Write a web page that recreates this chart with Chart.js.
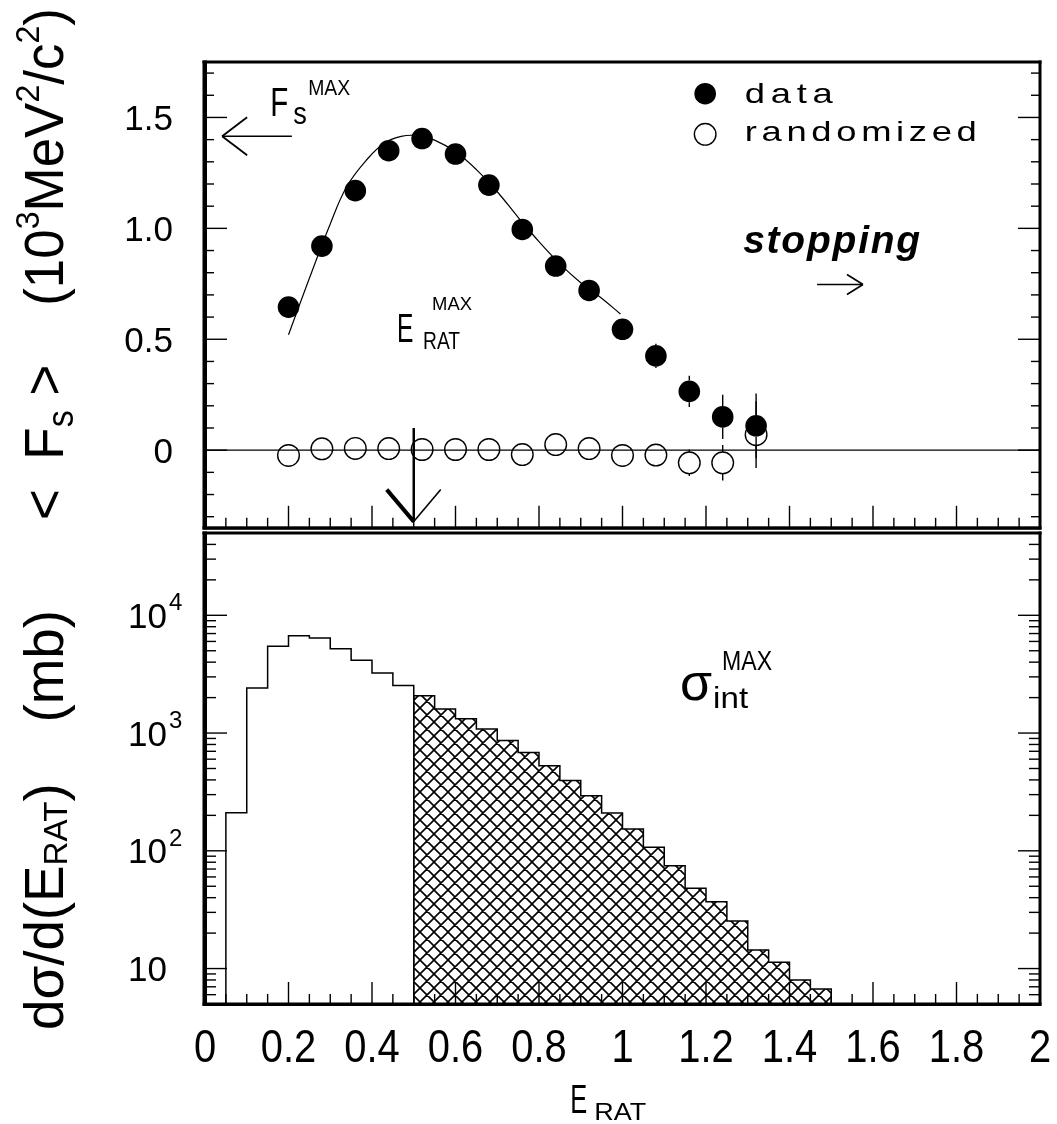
<!DOCTYPE html>
<html>
<head>
<meta charset="utf-8">
<script src="https://cdn.jsdelivr.net/npm/chart.js@4.4.1/dist/chart.umd.min.js"></script>
<style>
  html, body { margin: 0; padding: 0; background: #fff; }
  #wrap { position: relative; width: 1057px; height: 1124px; overflow: hidden; }
  #wrap canvas { position: absolute; left: 0; }
  #topChart { top: 0; }
  #botChart { top: 526px; }
</style>
</head>
<body>
<div id="wrap">
  <canvas id="topChart" width="1057" height="540"></canvas>
  <canvas id="botChart" width="1057" height="598"></canvas>
</div>
<script>
// upper panel: <F_s> per E_RAT bin
const pointX = [0.20, 0.28, 0.36, 0.44, 0.52, 0.60, 0.68, 0.76, 0.84, 0.92, 1.00, 1.08, 1.16, 1.24, 1.32];
const dataFs = [0.645, 0.92, 1.17, 1.35, 1.405, 1.335, 1.195, 0.995, 0.83, 0.72, 0.545, 0.425, 0.265, 0.15, 0.11];
const dataErr = [0.02, 0.02, 0.02, 0.02, 0.02, 0.02, 0.02, 0.02, 0.02, 0.03, 0.03, 0.055, 0.07, 0.10, 0.145];
const randFs = [-0.024, 0.006, 0.008, 0.007, 0.003, 0.003, 0.003, -0.02, 0.025, 0.007, -0.024, -0.022, -0.057, -0.057, 0.07];
const randErr = [0.02, 0.02, 0.02, 0.02, 0.02, 0.02, 0.02, 0.02, 0.02, 0.02, 0.03, 0.03, 0.06, 0.08, 0.15];

// smooth curve drawn through the data
const fitX = [0.20, 0.25, 0.30, 0.34, 0.39, 0.43, 0.47, 0.51, 0.55, 0.60, 0.65, 0.70, 0.75, 0.80, 0.85, 0.90, 0.95, 0.995];
const fitY = [0.52, 0.775, 1.02, 1.19, 1.315, 1.385, 1.415, 1.418, 1.398, 1.345, 1.265, 1.165, 1.05, 0.94, 0.84, 0.755, 0.685, 0.614];

// lower panel: dsigma/dE_RAT histogram (mb), bins of 0.05
const binEdges = [0.05, 0.10, 0.15, 0.20, 0.25, 0.30, 0.35, 0.40, 0.45, 0.50, 0.55, 0.60, 0.65, 0.70, 0.75,
                  0.80, 0.85, 0.90, 0.95, 1.00, 1.05, 1.10, 1.15, 1.20, 1.25, 1.30, 1.35, 1.40, 1.45, 1.50];
const binCounts = [210, 2415, 5455, 6710, 6420, 5210, 4145, 3235, 2540, 2075, 1600, 1323, 1082, 865, 684,
                   527, 395, 294, 209, 153, 107, 74.5, 48, 37, 25.4, 14.4, 11.3, 8.0, 6.7];
const hatchFrom = 0.5;   // E_RAT^MAX cut

// tick labels
const xTickValues = [0, 0.2, 0.4, 0.6, 0.8, 1, 1.2, 1.4, 1.6, 1.8, 2];
const xTickLabels = ['0', '0.2', '0.4', '0.6', '0.8', '1', '1.2', '1.4', '1.6', '1.8', '2'];
const topTickValues = [0, 0.5, 1.0, 1.5];
const topTickLabels = ['0', '0.5', '1.0', '1.5'];
const botTickValues = [10, 100, 1000, 10000];
const botTickExps = ['', '2', '3', '4'];

const FONT = "'Liberation Sans', Arial, sans-serif";
const LOG_MIN = 5, LOG_MAX = 50000;
const MARK_R = 10.8;

// text helpers ---------------------------------------------------------
function drawRuns(ctx, runs, x, y, o) {
  o = o || {};
  const style = o.style || '';
  ctx.save();
  ctx.translate(x, y);
  if (o.rot) ctx.rotate(o.rot);
  let nat = 0;
  for (const r of runs) { ctx.font = style + ' ' + r[1] + 'px ' + FONT; nat += ctx.measureText(r[0]).width; }
  const sx = o.w ? o.w / nat : (o.sx || 1);
  let cx = 0;
  if (o.align === 'right') cx = -nat;
  if (o.align === 'center') cx = -nat / 2;
  ctx.scale(sx, 1);
  for (const r of runs) {
    ctx.font = style + ' ' + r[1] + 'px ' + FONT;
    ctx.fillText(r[0], cx, r[2] || 0);
    cx += ctx.measureText(r[0]).width;
  }
  ctx.restore();
}

// letters stretched by sx, then spread to fill width w
function spaced(ctx, text, x, y, size, w, style, sx) {
  sx = sx || 1;
  ctx.font = (style || '') + ' ' + size + 'px ' + FONT;
  const chars = [...text];
  const ws = chars.map(c => ctx.measureText(c).width * sx);
  const nat = ws.reduce((s, v) => s + v, 0);
  const gap = (w - nat) / (chars.length - 1);
  let cx = x;
  chars.forEach((c, i) => {
    ctx.save();
    ctx.translate(cx, y);
    ctx.scale(sx, 1);
    ctx.fillText(c, 0, 0);
    ctx.restore();
    cx += ws[i] + gap;
  });
}

function seg(ctx, x0, y0, x1, y1, lw) {
  ctx.lineWidth = lw;
  ctx.beginPath();
  ctx.moveTo(x0, y0);
  ctx.lineTo(x1, y1);
  ctx.stroke();
}

function frame(ctx, a) {
  ctx.fillStyle = '#000';
  ctx.fillRect(a.left - 2.5, a.top - 1.5, 4.5, a.bottom - a.top + 3);
  ctx.fillRect(a.right - 1.5, a.top - 1.5, 3, a.bottom - a.top + 3);
  ctx.fillRect(a.left - 2.5, a.top - 1.5, a.right - a.left + 4, 3);
  ctx.fillRect(a.left - 2.5, a.bottom - 1.5, a.right - a.left + 4, 3.5);
}

function xTicks(ctx, a, xs) {
  for (let i = 0; i <= 40; i++) {
    const px = xs.getPixelForValue(i * 0.05);
    seg(ctx, px, a.bottom, px, a.bottom - (i % 4 === 0 ? 22 : 10), 1.4);
  }
}

// error bar drawn only where it sticks out of the marker
function errBar(ctx, px, pyLo, pyC, pyHi) {
  if (pyC - pyHi > MARK_R) seg(ctx, px, pyHi, px, pyC - MARK_R, 1.4);
  if (pyLo - pyC > MARK_R) seg(ctx, px, pyC + MARK_R, px, pyLo, 1.4);
}

// hatch pattern for the sigma_int^MAX region
function makeHatch() {
  const s = 14;
  const c = document.createElement('canvas');
  c.width = s; c.height = s;
  const g = c.getContext('2d');
  g.strokeStyle = '#000';
  g.lineWidth = 1.6;
  g.beginPath();
  for (let k = -1; k <= 1; k++) {
    g.moveTo(k * s - 1, -1); g.lineTo(k * s + s + 1, s + 1);
    g.moveTo(k * s + s + 1, -1); g.lineTo(k * s - 1, s + 1);
  }
  g.stroke();
  return g.createPattern(c, 'repeat');
}

// top panel decorations -------------------------------------------------
const topDecor = {
  id: 'topDecor',
  beforeDatasetsDraw(chart) {
    const { ctx, chartArea: a, scales: { x: xs, y: ys } } = chart;
    ctx.save();
    ctx.strokeStyle = '#000';
    const y0 = ys.getPixelForValue(0);
    seg(ctx, a.left, y0, a.right, y0, 1.2);
    pointX.forEach((x, i) => {
      const px = xs.getPixelForValue(x);
      errBar(ctx, px, ys.getPixelForValue(dataFs[i] - dataErr[i]), ys.getPixelForValue(dataFs[i]), ys.getPixelForValue(dataFs[i] + dataErr[i]));
      errBar(ctx, px, ys.getPixelForValue(randFs[i] - randErr[i]), ys.getPixelForValue(randFs[i]), ys.getPixelForValue(randFs[i] + randErr[i]));
    });
    ctx.restore();
  },
  afterDraw(chart) {
    const { ctx, chartArea: a, scales: { x: xs, y: ys } } = chart;
    const P = (x, y) => [xs.getPixelForValue(x), ys.getPixelForValue(y)];
    ctx.save();
    ctx.strokeStyle = '#000';
    ctx.fillStyle = '#000';
    frame(ctx, a);
    xTicks(ctx, a, xs);
    for (let i = -3; i <= 17; i++) {
      const py = ys.getPixelForValue(i / 10);
      const len = i % 5 === 0 ? 22 : 9;
      seg(ctx, a.left, py, a.left + len, py, 1.4);
      seg(ctx, a.right, py, a.right - len, py, 1.4);
    }
    // tick labels
    ctx.textBaseline = 'alphabetic';
    topTickValues.forEach((v, i) => {
      drawRuns(ctx, [[topTickLabels[i], 35]], 173, ys.getPixelForValue(v) + 12.5, { align: 'right' });
    });
    // y title
    drawRuns(ctx, [['<  F', 56], ['s', 36, 10], [' >    (10', 56], ['3', 34, -24], ['MeV', 56],
                   ['2', 34, -24], ['/c', 56], ['2', 34, -24], [')', 56]],
             63, 520, { rot: -Math.PI / 2, w: 512 });

    // F_s^MAX arrow and label
    const [tx, ty] = P(0.041, 1.415);
    const tail = xs.getPixelForValue(0.208);
    seg(ctx, tx, ty, tail, ty, 1.6);
    seg(ctx, tx, ty, tx + 25, ty - 19, 1.8);
    seg(ctx, tx, ty, tx + 25, ty + 19, 1.8);
    const [fx, fy] = P(0.156, 1.505);
    drawRuns(ctx, [['F', 41]], fx, fy, { sx: 0.72 });
    drawRuns(ctx, [['s', 32]], fx + 23, fy + 8, { sx: 0.85 });
    drawRuns(ctx, [['MAX', 22]], fx + 38, fy - 21, { w: 42 });

    // E_RAT^MAX label and arrow
    const [ex, ey] = P(0.46, 0.488);
    drawRuns(ctx, [['E', 41]], ex, ey, { sx: 0.6 });
    drawRuns(ctx, [['RAT', 23]], ex + 26, ey + 7, { w: 37 });
    drawRuns(ctx, [['MAX', 18]], ex + 35, ey - 32, { w: 40 });
    const [ax, ay0] = P(0.5, 0.10);
    const ay1 = ys.getPixelForValue(-0.322);
    seg(ctx, ax, ay0, ax, ay1, 2.5);
    seg(ctx, ax, ay1, ax - 27, ay1 - 32, 4);
    seg(ctx, ax, ay1, ax + 27, ay1 - 32, 1.6);

    // legend
    let [lx, ly] = P(1.198, 1.607);
    ctx.beginPath(); ctx.arc(lx, ly, MARK_R, 0, Math.PI * 2); ctx.fill();
    [lx, ly] = P(1.198, 1.424);
    ctx.lineWidth = 1.4;
    ctx.beginPath(); ctx.arc(lx, ly, MARK_R, 0, Math.PI * 2); ctx.stroke();
    let [qx, qy] = P(1.293, 1.567);
    spaced(ctx, 'data', qx, qy, 28, 88, '', 1.3);
    [qx, qy] = P(1.293, 1.393);
    spaced(ctx, 'randomized', qx, qy, 28, 232, '', 1.3);

    // stopping
    [qx, qy] = P(1.289, 0.889);
    spaced(ctx, 'stopping', qx, qy, 39, 177, 'italic bold');
    const [sx0, sy] = P(1.466, 0.747);
    const sx1 = xs.getPixelForValue(1.576);
    seg(ctx, sx0, sy, sx1, sy, 1.6);
    seg(ctx, sx1, sy, sx1 - 16, sy - 10, 1.6);
    seg(ctx, sx1, sy, sx1 - 16, sy + 10, 1.6);
    ctx.restore();
  }
};

// bottom panel decorations ----------------------------------------------
const botDecor = {
  id: 'botDecor',
  afterDraw(chart) {
    const { ctx, chartArea: a, scales: { x: xs, y: ys } } = chart;
    const P = (x, y) => [xs.getPixelForValue(x), ys.getPixelForValue(y)];
    ctx.save();
    ctx.strokeStyle = '#000';
    ctx.fillStyle = '#000';
    frame(ctx, a);
    xTicks(ctx, a, xs);
    for (let e = 0; e <= 4; e++) {
      for (let m = 1; m <= 9; m++) {
        const v = m * Math.pow(10, e);
        if (v < LOG_MIN || v > LOG_MAX) continue;
        const py = ys.getPixelForValue(v);
        const len = m === 1 ? 22 : 11;
        seg(ctx, a.left, py, a.left + len, py, 1.4);
        seg(ctx, a.right, py, a.right - len, py, 1.4);
      }
    }
    // y tick labels 10^n
    botTickValues.forEach((v, i) => {
      const py = ys.getPixelForValue(v);
      drawRuns(ctx, [['10', 35]], 167, py + 12.5, { align: 'right' });
      if (botTickExps[i]) drawRuns(ctx, [[botTickExps[i], 24]], 169, py - 5);
    });
    // x tick labels
    xTickValues.forEach((v, i) => {
      drawRuns(ctx, [[xTickLabels[i], 47]], xs.getPixelForValue(v), a.bottom + 58, { align: 'center', sx: 0.85 });
    });
    // x title
    const [tx0] = P(0.875, 10);
    drawRuns(ctx, [['E', 41]], tx0, a.bottom + 109, { sx: 0.62 });
    drawRuns(ctx, [['RAT', 24]], tx0 + 24, a.bottom + 116, { w: 52 });
    // y title
    drawRuns(ctx, [['d\u03c3/d(E', 56], ['RAT', 34, 4], [')    (mb)', 56]],
             63, a.bottom + 26, { rot: -Math.PI / 2, w: 420 });
    // sigma_int^MAX
    const [gx, gy] = P(1.138, 1910);
    drawRuns(ctx, [['\u03c3', 52]], gx, gy);
    drawRuns(ctx, [['int', 30]], gx + 33, gy + 8, { w: 35 });
    drawRuns(ctx, [['MAX', 27]], gx + 42, gy - 30, { w: 50 });
    ctx.restore();
  }
};

// build step outlines from the bins
function stepPoints(lo, hi) {
  const pts = [{ x: binEdges[lo], y: LOG_MIN }];
  for (let i = lo; i < hi; i++) pts.push({ x: binEdges[i], y: binCounts[i] });
  pts.push({ x: binEdges[hi], y: binCounts[hi - 1] });
  pts.push({ x: binEdges[hi], y: LOG_MIN });
  return pts;
}
const cut = binEdges.indexOf(hatchFrom);

const baseOpts = {
  responsive: false,
  animation: false,
  events: [],
  plugins: { legend: { display: false }, tooltip: { enabled: false } }
};

new Chart(document.getElementById('topChart'), {
  type: 'scatter',
  data: {
    datasets: [
      {
        label: 'data',
        data: pointX.map((x, i) => ({ x: x, y: dataFs[i] })),
        pointRadius: MARK_R,
        backgroundColor: '#000',
        borderColor: '#000',
        borderWidth: 0
      },
      {
        label: 'randomized',
        data: pointX.map((x, i) => ({ x: x, y: randFs[i] })),
        pointRadius: MARK_R,
        backgroundColor: 'rgba(0,0,0,0)',
        borderColor: '#000',
        borderWidth: 1.4
      },
      {
        label: 'fit',
        type: 'line',
        data: fitX.map((x, i) => ({ x: x, y: fitY[i] })),
        borderColor: '#000',
        borderWidth: 1.2,
        pointRadius: 0,
        tension: 0.4,
        fill: false
      }
    ]
  },
  options: Object.assign({}, baseOpts, {
    layout: { padding: { left: 205, right: 17, top: 62, bottom: 7 } },
    scales: {
      x: { type: 'linear', min: 0, max: 2, display: false },
      y: { type: 'linear', min: -0.35, max: 1.75, display: false }
    }
  }),
  plugins: [topDecor]
});

new Chart(document.getElementById('botChart'), {
  type: 'line',
  data: {
    datasets: [
      {
        label: 'all',
        data: stepPoints(0, cut),
        stepped: 'before',
        borderColor: '#000',
        borderWidth: 1.5,
        pointRadius: 0,
        fill: false
      },
      {
        label: 'sigma int max',
        data: stepPoints(cut, binCounts.length),
        stepped: 'before',
        borderColor: '#000',
        borderWidth: 1.5,
        pointRadius: 0,
        fill: 'start',
        backgroundColor: makeHatch()
      }
    ]
  },
  options: Object.assign({}, baseOpts, {
    layout: { padding: { left: 205, right: 17, top: 7, bottom: 120 } },
    scales: {
      x: { type: 'linear', min: 0, max: 2, display: false },
      y: { type: 'logarithmic', min: LOG_MIN, max: LOG_MAX, display: false }
    }
  }),
  plugins: [botDecor]
});
</script>
</body>
</html>
